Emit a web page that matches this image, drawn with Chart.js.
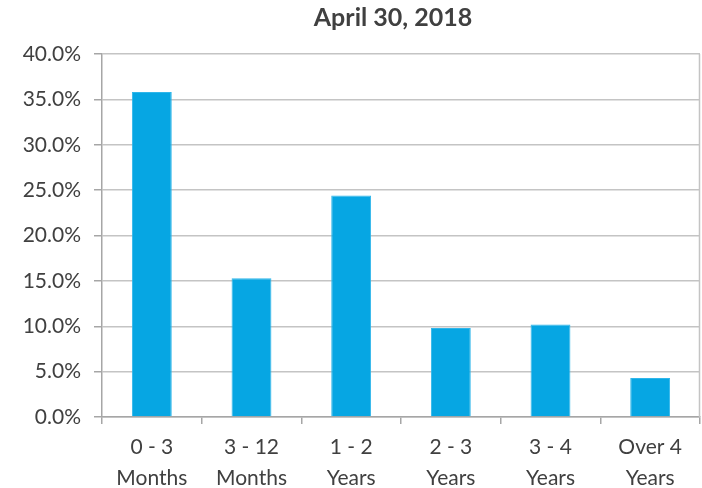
<!DOCTYPE html>
<html>
<head>
<meta charset="utf-8">
<script src="https://cdn.jsdelivr.net/npm/chart.js@4.4.1/dist/chart.umd.min.js"></script>
<style>
  html, body { margin: 0; padding: 0; background: #fff; }
  #wrap { width: 702px; height: 488px; }
</style>
</head>
<body>
<div id="wrap"><canvas id="maturityChart" width="702" height="488"></canvas></div>
<script>
const chartTitle = 'April 30, 2018';
const categories = [['0 - 3', 'Months'], ['3 - 12', 'Months'], ['1 - 2', 'Years'], ['2 - 3', 'Years'], ['3 - 4', 'Years'], ['Over 4', 'Years']];
const shares = [35.8, 15.3, 24.4, 9.8, 10.2, 4.3];
const yTicks = [0, 5, 10, 15, 20, 25, 30, 35, 40];

const fontFamily = 'Lato, "Open Sans", sans-serif';
const textColor = '#404040';
const gridColor = '#c4c4c4';

// title centred over the plot area, plus the right-hand border of the plot
const decorations = {
    id: 'decorations',
    afterDraw(chart) {
        const { ctx, chartArea } = chart;
        ctx.save();
        ctx.strokeStyle = gridColor;
        ctx.lineWidth = 1.5;
        ctx.beginPath();
        ctx.moveTo(chartArea.right - 0.5, chartArea.top);
        ctx.lineTo(chartArea.right - 0.5, chartArea.bottom);
        ctx.stroke();

        ctx.fillStyle = textColor;
        ctx.font = 'bold 25px ' + fontFamily;
        ctx.textAlign = 'center';
        ctx.textBaseline = 'middle';
        ctx.fillText(chartTitle, (chartArea.left + chartArea.right) / 2 - 8, 18);
        ctx.restore();
    }
};

const ctx = document.getElementById('maturityChart').getContext('2d');
new Chart(ctx, {
    type: 'bar',
    data: {
        labels: categories,
        datasets: [{
            data: shares,
            backgroundColor: '#06a6e3',
            borderColor: '#2fb6ea',
            borderWidth: 1,
            categoryPercentage: 1.0,
            barPercentage: 0.4
        }]
    },
    options: {
        responsive: false,
        animation: false,
        devicePixelRatio: 1,
        layout: { padding: { top: 54, right: 2, left: 0, bottom: 0 } },
        plugins: {
            legend: { display: false },
            tooltip: { enabled: false }
        },
        scales: {
            x: {
                grid: {
                    drawOnChartArea: false,
                    drawTicks: true,
                    tickLength: 7,
                    color: '#a6a6a6',
                    lineWidth: 1.5
                },
                border: { color: '#a6a6a6', width: 1.5 },
                ticks: {
                    color: textColor,
                    font: { family: fontFamily, size: 21, lineHeight: 1.5 },
                    padding: 7,
                    maxRotation: 0,
                    autoSkip: false
                },
                afterFit(scale) { scale.height = 71; }
            },
            y: {
                min: 0,
                max: 40,
                afterBuildTicks(scale) {
                    scale.ticks = yTicks.map(v => ({ value: v }));
                },
                grid: {
                    color: gridColor,
                    lineWidth: 1.5,
                    tickLength: 8,
                    tickColor: '#a6a6a6'
                },
                border: { color: '#a6a6a6', width: 1.5 },
                ticks: {
                    color: textColor,
                    font: { family: fontFamily, size: 21 },
                    padding: 13,
                    callback: v => v.toFixed(1) + '%'
                },
                afterFit(scale) { scale.width = 102; }
            }
        }
    },
    plugins: [decorations]
});
</script>
</body>
</html>
